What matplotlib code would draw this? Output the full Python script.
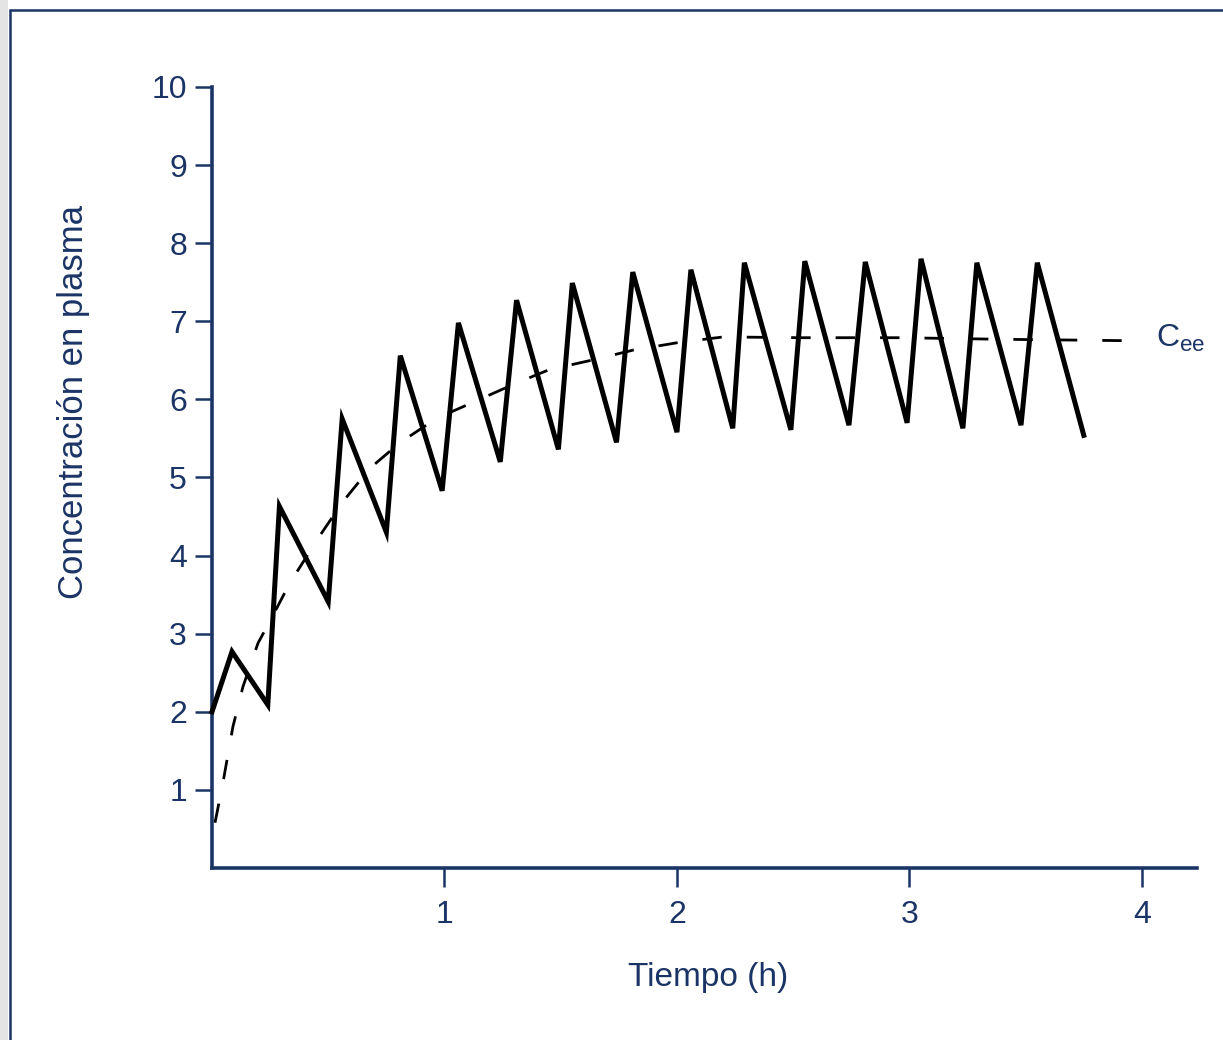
import matplotlib.pyplot as plt
from matplotlib.patches import Rectangle

# solid line: multiple-dose concentration (peaks and troughs)
dose_t = [0.0, 0.086, 0.24, 0.29, 0.50, 0.56, 0.75, 0.81, 0.99, 1.06, 1.24,
          1.31, 1.49, 1.55, 1.74, 1.81, 2.00, 2.06, 2.24, 2.29, 2.49, 2.55,
          2.74, 2.81, 2.99, 3.05, 3.23, 3.29, 3.48, 3.55, 3.75]
dose_c = [2.0, 2.77, 2.09, 4.63, 3.41, 5.75, 4.30, 6.56, 4.83, 6.98, 5.20,
          7.27, 5.36, 7.49, 5.45, 7.63, 5.58, 7.66, 5.63, 7.75, 5.61, 7.77,
          5.67, 7.76, 5.70, 7.80, 5.63, 7.75, 5.67, 7.75, 5.54]

# dashed line: mean concentration approaching steady state
mean_t = [0.013, 0.047, 0.09, 0.133, 0.198, 0.258, 0.335, 0.465, 0.563, 0.68,
          0.81, 0.968, 1.075, 1.31, 1.45, 1.63, 1.81, 2.01, 2.20, 2.53, 2.96,
          3.39, 3.99]
mean_c = [0.58, 1.09, 1.81, 2.32, 2.88, 3.21, 3.65, 4.26, 4.69, 5.12, 5.45,
          5.76, 5.90, 6.21, 6.38, 6.50, 6.63, 6.73, 6.80, 6.79, 6.79, 6.77, 6.75]

x_ticks = [1, 2, 3, 4]
y_ticks = [1, 2, 3, 4, 5, 6, 7, 8, 9, 10]

navy = "#1b3466"
plt.rcParams["font.family"] = ["Liberation Sans", "DejaVu Sans"]
plt.rcParams["mathtext.fontset"] = "custom"
plt.rcParams["mathtext.rm"] = "Liberation Sans"

W, H = 1223, 1040
fig = plt.figure(figsize=(W / 100, H / 100), dpi=100)
fig.patch.set_facecolor("white")

# grey strip and frame around the figure
fig.patches.append(Rectangle((0, 0), 8 / W, 1, transform=fig.transFigure,
                             facecolor="#e4e4e4", edgecolor="none", zorder=0))
fig.patches.append(Rectangle((10 / W, -0.05), 1.1, 1 - 10 / H + 0.05,
                             transform=fig.transFigure, facecolor="none",
                             edgecolor=navy, linewidth=1.8, zorder=1))

ax = fig.add_axes([212 / W, (H - 868) / H, (1197 - 212) / W, (868 - 87) / H])
ax.plot(dose_t, dose_c, color="black", linewidth=3.6, solid_joinstyle="miter",
        clip_on=False, zorder=3)
ax.plot(mean_t, mean_c, color="black", linewidth=2.0, dashes=(7, 9),
        clip_on=False, zorder=2)
ax.text(4.06, 6.78, "C$_{\\rm ee}$", color=navy, fontsize=23, va="center",
        ha="left", clip_on=False)

ax.set_xlim(0, 4.237)
ax.set_ylim(0, 10)
ax.set_xticks(x_ticks)
ax.set_yticks(y_ticks)
for side in ["top", "right"]:
    ax.spines[side].set_visible(False)
for side in ["left", "bottom"]:
    ax.spines[side].set_color(navy)
    ax.spines[side].set_linewidth(2.6)
ax.tick_params(axis="y", length=12, width=1.8, color=navy, labelcolor=navy,
               labelsize=23, pad=6)
ax.tick_params(axis="x", length=14, width=1.8, color=navy, labelcolor=navy,
               labelsize=23, pad=9)

ax.set_xlabel("Tiempo (h)", fontsize=24, color=navy)
ax.set_ylabel("Concentración en plasma", fontsize=25, color=navy)
ax.xaxis.set_label_coords(0.504, -0.12)
ax.yaxis.set_label_coords(-0.124, 0.597)

fig.savefig("out.png", dpi=100, facecolor=fig.get_facecolor())
